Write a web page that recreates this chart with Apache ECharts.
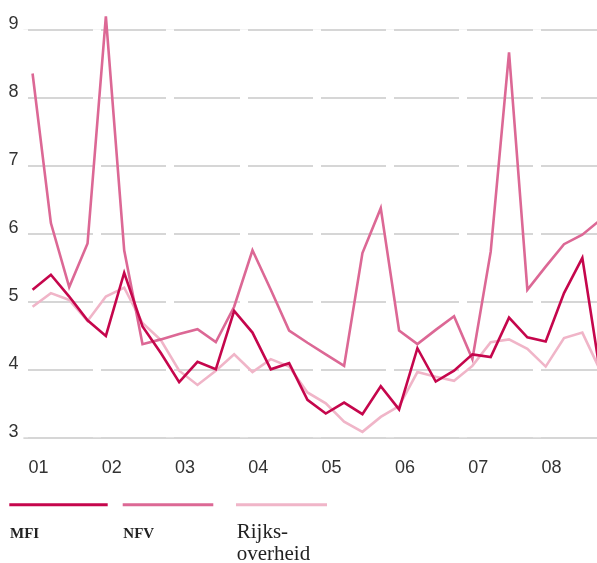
<!DOCTYPE html>
<html>
<head>
<meta charset="utf-8">
<script src="https://cdn.jsdelivr.net/npm/echarts@6/dist/echarts.min.js"></script>
<style>
  html, body { margin: 0; padding: 0; background: #fff; }
  #chart { width: 597px; height: 563px; }
</style>
</head>
<body>
<div id="chart"></div>
<script>
// Quarterly figures, 2001 Q1 .. 2008 Q4 (percent)
const yearLabels = ['01', '02', '03', '04', '05', '06', '07', '08'];
const quartersPerYear = 4;

const mfi = [5.17, 5.39, 5.07, 4.72, 4.49, 5.42, 4.63, 4.24,
             3.81, 4.11, 4.00, 4.86, 4.54, 4.00, 4.09, 3.55,
             3.35, 3.51, 3.34, 3.75, 3.41, 4.31, 3.82, 3.98,
             4.22, 4.18, 4.76, 4.47, 4.41, 5.12, 5.64, 3.90];

const nfv = [8.35, 6.15, 5.21, 5.85, 9.19, 5.75, 4.37, 4.44,
             4.52, 4.59, 4.40, 4.92, 5.75, 5.17, 4.57, 4.39,
             4.22, 4.05, 5.71, 6.37, 4.57, 4.37, 4.58, 4.78,
             4.15, 5.73, 8.66, 5.17, 5.51, 5.84, 5.98, 6.20];

const rijks = [4.92, 5.12, 5.02, 4.71, 5.07, 5.20, 4.68, 4.43,
               3.98, 3.77, 3.98, 4.22, 3.96, 4.15, 4.04, 3.66,
               3.50, 3.23, 3.08, 3.30, 3.46, 3.96, 3.89, 3.83,
               4.05, 4.40, 4.44, 4.30, 4.04, 4.46, 4.54, 3.97];

const yTicks = [3, 4, 5, 6, 7, 8, 9];

const colors = { mfi: '#c5064c', nfv: '#dc6895', rijks: '#f0b5c8' };

// each quarter is plotted at its midpoint on a continuous time axis
function toPoints(values) {
  return values.map((v, i) => [i + 0.5, v]);
}

const chart = echarts.init(document.getElementById('chart'), null, { renderer: 'canvas' });

const digitFont = '"Liberation Sans", Arial, sans-serif';
const serifFont = '"Liberation Serif", "Times New Roman", serif';

function lineSeries(name, values, color) {
  return {
    name: name,
    type: 'line',
    data: toPoints(values),
    symbol: 'none',
    clip: false,
    z: 3,
    lineStyle: { color: color, width: 2.6, join: 'miter' },
    itemStyle: { color: color }
  };
}

function legendItem(name, color, left, width) {
  return {
    data: [name],
    left: left,
    top: 503.3,
    padding: 0,
    icon: 'rect',
    itemWidth: width,
    itemHeight: 3,
    selectedMode: false,
    formatter: () => '',
    textStyle: { fontSize: 1, lineHeight: 3, padding: 0 }
  };
}

chart.setOption({
  animation: false,
  backgroundColor: '#ffffff',
  grid: { left: 23.4, right: 0, top: 29.3, bottom: 125.7 },
  xAxis: {
    type: 'value',
    min: 0,
    max: 31.3,
    interval: quartersPerYear,
    z: 1,
    axisLine: { show: false },
    axisTick: { show: false },
    splitLine: {
      show: true,
      showMaxLine: false,
      lineStyle: { color: '#ffffff', width: 8 }
    },
    axisLabel: {
      showMaxLabel: false,
      align: 'left',
      margin: 22,
      padding: [0, 0, 0, 5],
      color: '#333333',
      fontFamily: digitFont,
      fontSize: 18,
      formatter: (v) => yearLabels[Math.round(v / quartersPerYear)] || ''
    }
  },
  yAxis: {
    type: 'value',
    min: yTicks[0],
    max: yTicks[yTicks.length - 1],
    interval: 1,
    z: 0,
    axisLine: { show: false },
    axisTick: { show: false },
    splitLine: { show: true, lineStyle: { color: '#c8c8c8', width: 1.5 } },
    axisLabel: {
      margin: 5,
      color: '#333333',
      fontFamily: digitFont,
      fontSize: 18,
      verticalAlign: 'bottom',
      lineHeight: 11
    }
  },
  legend: [
    legendItem('MFI', colors.mfi, 9.3, 98.4),
    legendItem('NFV', colors.nfv, 122.7, 90.6),
    legendItem('Rijksoverheid', colors.rijks, 236, 91)
  ],
  graphic: [
    { type: 'text', x: 10, y: 527,
      style: { text: 'MFI', font: 'bold 15px ' + serifFont, fill: '#222222' } },
    { type: 'text', x: 123.3, y: 527,
      style: { text: 'NFV', font: 'bold 15px ' + serifFont, fill: '#222222' } },
    { type: 'text', x: 236.7, y: 521,
      style: { text: 'Rijks-\noverheid', font: '21px ' + serifFont, lineHeight: 22, fill: '#222222' } }
  ],
  series: [
    lineSeries('Rijksoverheid', rijks, colors.rijks),
    lineSeries('NFV', nfv, colors.nfv),
    lineSeries('MFI', mfi, colors.mfi)
  ]
});
</script>
</body>
</html>
